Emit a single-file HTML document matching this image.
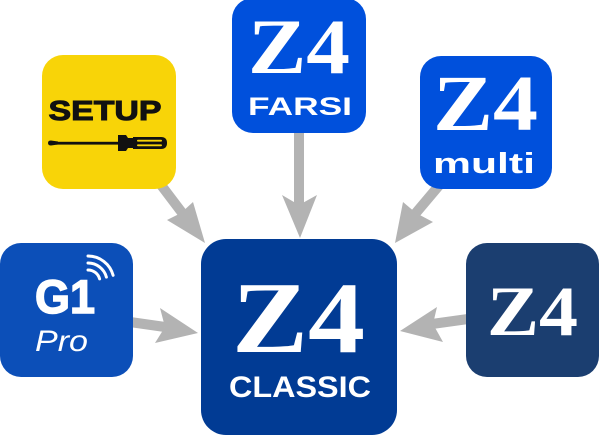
<!DOCTYPE html>
<html><head><meta charset="utf-8"><style>
html,body{margin:0;padding:0;background:#fff;}
svg{display:block;}
</style></head><body>
<svg width="600" height="436" viewBox="0 0 600 436" xmlns="http://www.w3.org/2000/svg">
<!-- arrows -->
<g fill="#b3b3b3" stroke="none">
  <line x1="158" y1="181" x2="183" y2="214" stroke="#b3b3b3" stroke-width="10"/>
  <polygon points="167,220 181,213 193,202 205,243"/>
  <line x1="299" y1="130" x2="299" y2="206" stroke="#b3b3b3" stroke-width="10"/>
  <polygon points="282,195 299,205 317,195 300,238"/>
  <line x1="442" y1="182" x2="415" y2="214" stroke="#b3b3b3" stroke-width="10"/>
  <polygon points="403,202 416,213 433,222 395,243"/>
  <line x1="130" y1="322" x2="165" y2="327" stroke="#b3b3b3" stroke-width="10"/>
  <polygon points="160,308 165,327 155,343 198,333"/>
  <line x1="468" y1="319" x2="432" y2="324" stroke="#b3b3b3" stroke-width="10"/>
  <polygon points="437,307 433,324 443,342 400,331"/>
</g>

<!-- SETUP box -->
<rect x="42" y="55" width="134" height="134" rx="21" fill="#f8d408"/>
<text x="48.5" y="120" font-family="Liberation Sans, sans-serif" font-weight="bold" font-size="28" textLength="113" lengthAdjust="spacingAndGlyphs" fill="#111" stroke="#111" stroke-width="1">SETUP</text>
<g fill="#111">
  <path d="M48,143 Q48,140.5 51,140.5 L58,141.5 L58,144.5 L51,145.5 Q48,145.5 48,143 Z"/>
  <rect x="56" y="141.8" width="64" height="2.8"/>
  <path d="M118,135 L126,135 L128,138 L134,138 L134,148 L128,148 L126,151 L118,151 Z"/>
  <path d="M133,137 L161,137 Q167,137 167,143 Q167,149 161,149 L133,149 Z"/>
</g>
<g fill="#f8d408">
  <rect x="137" y="139.8" width="25" height="1.8" rx="0.9"/>
  <rect x="137" y="144.4" width="25" height="1.8" rx="0.9"/>
</g>

<!-- FARSI box -->
<rect x="232" y="-2" width="134" height="135" rx="21" fill="#0050dc"/>
<text x="248" y="73" font-family="Liberation Serif, serif" font-weight="bold" font-size="78" textLength="102" lengthAdjust="spacingAndGlyphs" fill="#fff">Z4</text>
<text x="248" y="115" font-family="Liberation Sans, sans-serif" font-weight="bold" font-size="25" textLength="104" lengthAdjust="spacingAndGlyphs" fill="#fff">FARSI</text>

<!-- multi box -->
<rect x="420" y="56" width="132" height="133" rx="21" fill="#0050dc"/>
<text x="433" y="130" font-family="Liberation Serif, serif" font-weight="bold" font-size="79" textLength="105" lengthAdjust="spacingAndGlyphs" fill="#fff">Z4</text>
<text x="433" y="173" font-family="Liberation Sans, sans-serif" font-weight="bold" font-size="29" textLength="102" lengthAdjust="spacingAndGlyphs" fill="#fff">multi</text>

<!-- G1 Pro box -->
<rect x="0" y="243" width="133" height="134" rx="21" fill="#0c4fb8"/>
<text x="35" y="313" font-family="Liberation Sans, sans-serif" font-weight="bold" font-size="47" textLength="60" lengthAdjust="spacingAndGlyphs" fill="#fff" stroke="#fff" stroke-width="1.5">G1</text>
<text x="35" y="351" font-family="Liberation Sans, sans-serif" font-style="italic" font-size="30" textLength="53" lengthAdjust="spacingAndGlyphs" fill="#fff">Pro</text>
<g fill="none" stroke="#fff" stroke-width="3" stroke-linecap="round">
  <path d="M88,270 A12,12 0 0 1 99.6,278.9"/>
  <path d="M88,263 A19,19 0 0 1 106.4,277.1"/>
  <path d="M88,256 A26,26 0 0 1 113.1,275.3"/>
</g>

<!-- center CLASSIC box -->
<rect x="201" y="239" width="196" height="196" rx="25" fill="#013b94"/>
<text x="232" y="352" font-family="Liberation Serif, serif" font-weight="bold" font-size="102" textLength="133" lengthAdjust="spacingAndGlyphs" fill="#fff">Z4</text>
<text x="229" y="397" font-family="Liberation Sans, sans-serif" font-weight="bold" font-size="30" textLength="142" lengthAdjust="spacingAndGlyphs" fill="#fff">CLASSIC</text>

<!-- right Z4 box -->
<rect x="466" y="243" width="133" height="134" rx="21" fill="#1b3e70"/>
<text x="487" y="335" font-family="Liberation Serif, serif" font-weight="bold" font-size="71" textLength="91" lengthAdjust="spacingAndGlyphs" fill="#fff">Z4</text>
</svg>
</body></html>
